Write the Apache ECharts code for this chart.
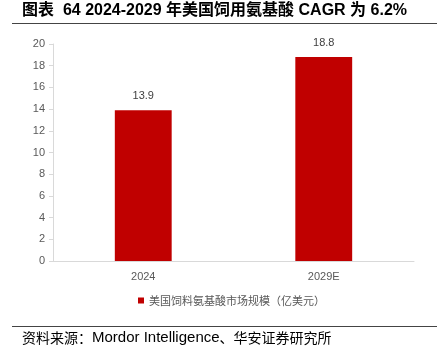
<!DOCTYPE html>
<html>
<head>
<meta charset="utf-8">
<script src="https://cdn.jsdelivr.net/npm/echarts@6/dist/echarts.min.js"></script>
<style>
  html, body { margin: 0; padding: 0; background: #fff; }
  #chart { width: 437px; height: 353px; }
</style>
</head>
<body>
<div id="chart"></div>
<script>
// 数据
const categories = ['2024', '2029E'];
const marketSize = [13.9, 18.8];
const seriesName = '美国饲料氨基酸市场规模（亿美元）';
const titleText = '图表  64 2024-2029 年美国饲用氨基酸 CAGR 为 6.2%';

const chart = echarts.init(document.getElementById('chart'));
const font = '"Liberation Sans", Arial, "Noto Sans CJK SC", sans-serif';

chart.setOption({
  animation: false,
  backgroundColor: '#fff',
  textStyle: { fontFamily: font },
  graphic: [
    {
      type: 'text', left: 22, top: 3,
      style: { text: titleText, font: 'bold 16px ' + font, fill: '#000' }
    },
    {
      type: 'line', shape: { x1: 12, y1: 23.5, x2: 437, y2: 23.5 },
      style: { stroke: '#444', lineWidth: 1 }
    },
    {
      type: 'line', shape: { x1: 12, y1: 326.5, x2: 437, y2: 326.5 },
      style: { stroke: '#444', lineWidth: 1 }
    },
    {
      type: 'text', left: 22, top: 330,
      style: {
        text: '{c|资料来源：}{l|Mordor Intelligence}{c|、华安证券研究所}',
        rich: {
          c: { fontSize: 14, fontFamily: '"Noto Sans CJK SC", sans-serif', fill: '#000' },
          l: { fontSize: 15, fontFamily: '"Liberation Sans", Arial, sans-serif', fill: '#000' }
        }
      }
    }
  ],
  grid: { left: 53, right: 23, top: 44, bottom: 92, containLabel: false },
  legend: {
    bottom: 42, left: 133,
    itemWidth: 6, itemHeight: 6,
    itemGap: 4,
    icon: 'rect',
    textStyle: { fontSize: 11, color: '#595959', fontFamily: '"Noto Sans CJK SC", serif' },
    data: [seriesName]
  },
  xAxis: {
    type: 'category',
    data: categories,
    axisLine: { lineStyle: { color: '#d9d9d9' } },
    axisTick: { show: false },
    axisLabel: { color: '#595959', fontSize: 11, margin: 10 }
  },
  yAxis: {
    type: 'value',
    min: 0, max: 20, interval: 2,
    axisLine: { show: true, lineStyle: { color: '#d9d9d9' } },
    axisTick: { show: true, length: 4, lineStyle: { color: '#d9d9d9' } },
    splitLine: { show: false },
    axisLabel: { color: '#595959', fontSize: 11, margin: 8 }
  },
  series: [{
    name: seriesName,
    type: 'bar',
    data: marketSize,
    barWidth: '31.5%',
    itemStyle: { color: '#C00000' },
    label: { show: true, position: 'top', color: '#404040', fontSize: 11, distance: 9 }
  }]
});
</script>
</body>
</html>
